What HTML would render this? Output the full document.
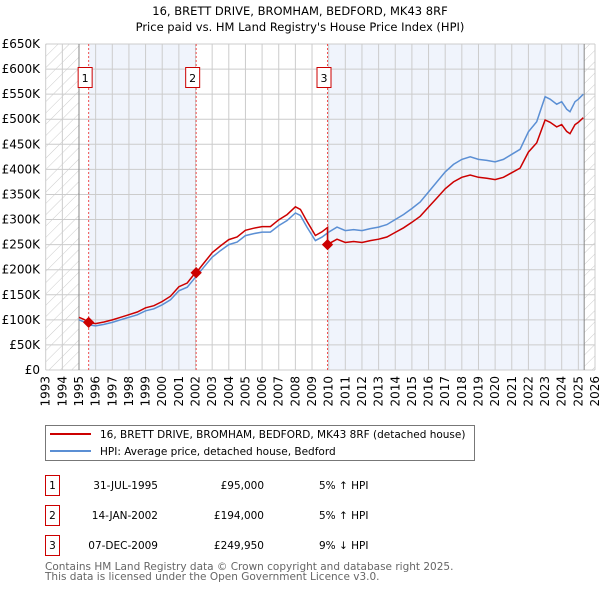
<!DOCTYPE html>
<html><head><meta charset="utf-8"><style>
body{margin:0;background:#fff;}
svg{display:block;font-family:"DejaVu Sans","Liberation Sans",sans-serif;}
</style></head><body>
<svg id="chart" width="600" height="590" viewBox="0 0 600 590">
<defs><pattern id="hatch" patternUnits="userSpaceOnUse" width="8" height="8" patternTransform="rotate(45)"><line x1="0" y1="0" x2="0" y2="8" stroke="#ccc" stroke-width="1"/></pattern></defs>
<text x="300" y="15" text-anchor="middle" font-size="11.5" fill="#000">16, BRETT DRIVE, BROMHAM, BEDFORD, MK43 8RF</text>
<text x="300" y="31" text-anchor="middle" font-size="11.5" fill="#000">Price paid vs. HM Land Registry's House Price Index (HPI)</text>
<g id="plot"></g>
<g>
<rect x="45.5" y="425.5" width="429" height="35" fill="#fff" stroke="#777"/>
<line x1="50" y1="434" x2="91" y2="434" stroke="#cc0000" stroke-width="2"/>
<text x="100" y="438" font-size="10.5">16, BRETT DRIVE, BROMHAM, BEDFORD, MK43 8RF (detached house)</text>
<line x1="50" y1="451" x2="91" y2="451" stroke="#5b8fd4" stroke-width="2"/>
<text x="100" y="455" font-size="10.5">HPI: Average price, detached house, Bedford</text>
</g>
<g font-size="10.5">
<rect x="45.5" y="475.5" width="14" height="20" fill="none" stroke="#cc0000"/><text x="52.5" y="489" text-anchor="middle">1</text>
<text x="158" y="489" text-anchor="end">31-JUL-1995</text><text x="264" y="489" text-anchor="end">£95,000</text><text x="319" y="489">5% ↑ HPI</text>
<rect x="45.5" y="505.5" width="14" height="20" fill="none" stroke="#cc0000"/><text x="52.5" y="519" text-anchor="middle">2</text>
<text x="158" y="519" text-anchor="end">14-JAN-2002</text><text x="264" y="519" text-anchor="end">£194,000</text><text x="319" y="519">5% ↑ HPI</text>
<rect x="45.5" y="535.5" width="14" height="20" fill="none" stroke="#cc0000"/><text x="52.5" y="549" text-anchor="middle">3</text>
<text x="158" y="549" text-anchor="end">07-DEC-2009</text><text x="264" y="549" text-anchor="end">£249,950</text><text x="319" y="549">9% ↓ HPI</text>
</g>
<text x="45" y="570" font-size="10.5" fill="#666">Contains HM Land Registry data © Crown copyright and database right 2025.</text>
<text x="45" y="580" font-size="10.5" fill="#666">This data is licensed under the Open Government Licence v3.0.</text>
</svg>
<script>
const hpiYears=[1995.0,1995.3,1995.6,1996.0,1996.5,1997.0,1997.5,1998.0,1998.5,1999.0,1999.5,2000.0,2000.5,2001.0,2001.5,2002.0,2002.5,2003.0,2003.5,2004.0,2004.5,2005.0,2005.5,2006.0,2006.5,2007.0,2007.5,2008.0,2008.3,2008.7,2009.2,2009.6,2010.0,2010.5,2011.0,2011.5,2012.0,2012.5,2013.0,2013.5,2014.0,2014.5,2015.0,2015.5,2016.0,2016.5,2017.0,2017.5,2018.0,2018.5,2019.0,2019.5,2020.0,2020.5,2021.0,2021.5,2022.0,2022.5,2023.0,2023.3,2023.7,2024.0,2024.3,2024.5,2024.8,2025.0,2025.3];
const hpiValues=[100,96,90,88,91,95,100,105,110,118,122,130,140,158,165,185,205,225,238,250,255,268,272,275,275,288,298,313,308,285,258,265,275,285,278,280,278,282,285,290,300,310,322,335,355,375,395,410,420,425,420,418,415,420,430,440,475,495,545,540,530,535,520,515,535,540,550];
const saleYears=[1995.58,2002.04,2009.93];
const salePrices=[95,194,249.95];
const yTicks=[0,50,100,150,200,250,300,350,400,450,500,550,600,650];
const yTickLabels=["£0","£50K","£100K","£150K","£200K","£250K","£300K","£350K","£400K","£450K","£500K","£550K","£600K","£650K"];
const xTicks=[1993,1994,1995,1996,1997,1998,1999,2000,2001,2002,2003,2004,2005,2006,2007,2008,2009,2010,2011,2012,2013,2014,2015,2016,2017,2018,2019,2020,2021,2022,2023,2024,2025,2026];
const dataStart=1995.0, dataEnd=2025.35;

const X0=45.7,X1=595,Y0=370,Y1=44;
const xs=y=>X0+(y-1993)/(2026-1993)*(X1-X0);
const ys=v=>Y0-v/650*(Y0-Y1);
const NS="http://www.w3.org/2000/svg";
const g=document.getElementById('plot');
function mk(t,a){const e=document.createElementNS(NS,t);for(const k in a)e.setAttribute(k,a[k]);g.appendChild(e);return e;}
function hpiAt(t){for(let i=0;i<hpiYears.length-1;i++){if(t>=hpiYears[i]&&t<=hpiYears[i+1]){const f=(t-hpiYears[i])/(hpiYears[i+1]-hpiYears[i]);return hpiValues[i]+f*(hpiValues[i+1]-hpiValues[i]);}}return hpiValues[hpiValues.length-1];}
let r=mk('rect',{x:xs(saleYears[0]),y:Y1,width:xs(saleYears[1])-xs(saleYears[0]),height:Y0-Y1,fill:'#f0f4fc'});

r=mk('rect',{x:xs(saleYears[2]),y:Y1,width:xs(dataEnd)-xs(saleYears[2]),height:Y0-Y1,fill:'#f0f4fc'});

r=mk('rect',{x:X0,y:Y1,width:xs(dataStart)-X0,height:Y0-Y1,fill:'url(#hatch)'});

r=mk('rect',{x:xs(dataEnd),y:Y1,width:X1-xs(dataEnd),height:Y0-Y1,fill:'url(#hatch)'});

yTicks.forEach((v,i)=>{const l=mk('line',{x1:X0,x2:X1,y1:ys(v),y2:ys(v),stroke:'#ccc','stroke-width':1});

const t=mk('text',{x:40,y:ys(v)+4,'text-anchor':'end','font-size':12});t.textContent=yTickLabels[i];
});
xTicks.forEach(yr=>{const l=mk('line',{x1:xs(yr),x2:xs(yr),y1:Y1,y2:Y0,stroke:'#ccc','stroke-width':1});

const t=mk('text',{x:0,y:0,'text-anchor':'end','font-size':12,transform:`translate(${xs(yr)+4},${Y0+6}) rotate(-90)`});t.textContent=yr;
});
[dataStart,dataEnd].forEach(yr=>{const l=mk('line',{x1:xs(yr),x2:xs(yr),y1:Y1,y2:Y0,stroke:'#888','stroke-width':1});
});
saleYears.forEach((yr,i)=>{const l=mk('line',{x1:xs(yr),x2:xs(yr),y1:Y1,y2:Y0,stroke:'#f05050','stroke-width':1,'stroke-dasharray':'2,2'});

const b=mk('rect',{x:xs(yr)-10.5,y:67.5,width:14,height:20,fill:'#fff',stroke:'#cc0000'});

const t=mk('text',{x:xs(yr)-3.5,y:82,'text-anchor':'middle','font-size':11});t.textContent=i+1;
});
let d=hpiYears.map((yr,i)=>(i?'L':'M')+xs(yr).toFixed(1)+','+ys(hpiValues[i]).toFixed(1)).join('');
let p=mk('path',{d,fill:'none',stroke:'#5b8fd4','stroke-width':1.5});

const pts=[];
const seg=t=>{let k=0;for(let i=0;i<saleYears.length;i++)if(t>=saleYears[i])k=i;return k;};
const times=[...hpiYears,...saleYears].sort((a,b)=>a-b);
times.forEach(t=>{const k=seg(t);const f=salePrices[k]/hpiAt(saleYears[k]);
 if(saleYears.includes(t)&&k>0){const pf=salePrices[k-1]/hpiAt(saleYears[k-1]);pts.push([t,hpiAt(t)*pf]);}
 pts.push([t,hpiAt(t)*f]);});
d=pts.map((q,i)=>(i?'L':'M')+xs(q[0]).toFixed(1)+','+ys(q[1]).toFixed(1)).join('');
p=mk('path',{d,fill:'none',stroke:'#cc0000','stroke-width':1.5});

saleYears.forEach((yr,i)=>{const c=mk('rect',{x:xs(yr)-4,y:ys(salePrices[i])-4,width:8,height:8,fill:'#cc0000',transform:`rotate(45 ${xs(yr)} ${ys(salePrices[i])})`});
});
</script>
</body></html>
